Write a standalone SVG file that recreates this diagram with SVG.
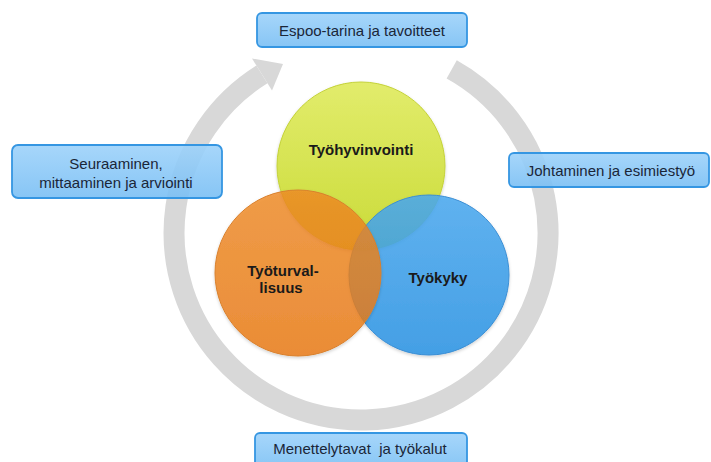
<svg xmlns="http://www.w3.org/2000/svg" width="711" height="462" viewBox="0 0 711 462">
  <defs>
    <linearGradient id="boxFill" x1="0" y1="0" x2="0" y2="1">
      <stop offset="0" stop-color="#9dd2fa"/>
      <stop offset="1" stop-color="#7abff4"/>
    </linearGradient>
    <linearGradient id="gYellow" x1="0" y1="0" x2="0" y2="1">
      <stop offset="0" stop-color="#e2ec6c"/>
      <stop offset="1" stop-color="#cadb38"/>
    </linearGradient>
    <linearGradient id="gBlue" x1="0" y1="0" x2="0" y2="1">
      <stop offset="0" stop-color="#4aa9f0"/>
      <stop offset="1" stop-color="#2a93e4"/>
    </linearGradient>
    <linearGradient id="gOrange" x1="0" y1="0" x2="0" y2="1">
      <stop offset="0" stop-color="#f08a24"/>
      <stop offset="1" stop-color="#ea7710"/>
    </linearGradient>
    <filter id="soft" x="-10%" y="-10%" width="120%" height="130%">
      <feDropShadow dx="0" dy="1.5" stdDeviation="1.5" flood-color="#000" flood-opacity="0.2"/>
    </filter>
  </defs>
  <style>
    .ring { fill: none; stroke: #d8d8d8; stroke-width: 21; }
    .arrowhead { fill: #d8d8d8; }
    .box { fill: url(#boxFill); fill-opacity: 0.9; stroke: #3596e2; stroke-width: 1.8; }
    .boxText { font-family: "Liberation Sans", Arial, sans-serif; font-size: 15px; fill: #1a2638; text-anchor: middle; }
    .circleText { font-family: "Liberation Sans", Arial, sans-serif; font-size: 15px; font-weight: bold; fill: #1a1a1a; text-anchor: middle; }
  </style>

  <rect width="711" height="462" fill="#ffffff"/>

  <!-- circular cycle arrow -->
  <g id="connectors">
    <path class="ring" d="M 451.7 69.4 A 187 187 0 1 1 261.9 74.4"/>
    <polygon class="arrowhead" points="252,58.5 283,64 272,90.5"/>
  </g>

  <!-- overlapping circles -->
  <g id="tyohyvinvointi">
    <circle cx="361" cy="166" r="84" fill="url(#gYellow)" stroke="#c4d238" stroke-width="1" filter="url(#soft)"/>
    <text class="circleText" x="361" y="155">Työhyvinvointi</text>
  </g>
  <g id="tyokyky">
    <circle cx="429" cy="275" r="80" fill="url(#gBlue)" fill-opacity="0.85" stroke="#3a8ed4" stroke-width="1" filter="url(#soft)"/>
    <text class="circleText" x="438" y="283">Työkyky</text>
  </g>
  <g id="tyoturvallisuus">
    <circle cx="298" cy="273" r="83" fill="url(#gOrange)" fill-opacity="0.8" stroke="#d9802c" stroke-width="1" filter="url(#soft)"/>
    <text class="circleText" x="283" y="276">Työturval-</text>
    <text class="circleText" x="281" y="293">lisuus</text>
  </g>

  <!-- labels around the cycle -->
  <g id="espoo-tarina">
    <rect class="box" x="257" y="13" width="210" height="34" rx="5"/>
    <text class="boxText" x="362" y="35.5">Espoo-tarina ja tavoitteet</text>
  </g>
  <g id="seuraaminen">
    <rect class="box" x="12" y="145" width="210" height="53" rx="6"/>
    <text class="boxText" x="116" y="169">Seuraaminen,</text>
    <text class="boxText" x="116" y="188">mittaaminen ja arviointi</text>
  </g>
  <g id="johtaminen">
    <rect class="box" x="509" y="153" width="200" height="34" rx="5"/>
    <text class="boxText" x="611" y="176">Johtaminen ja esimiestyö</text>
  </g>
  <g id="menettelytavat">
    <rect class="box" x="255" y="433" width="212" height="36" rx="5"/>
    <text class="boxText" x="360" y="454" xml:space="preserve">Menettelytavat  ja työkalut</text>
  </g>
</svg>
